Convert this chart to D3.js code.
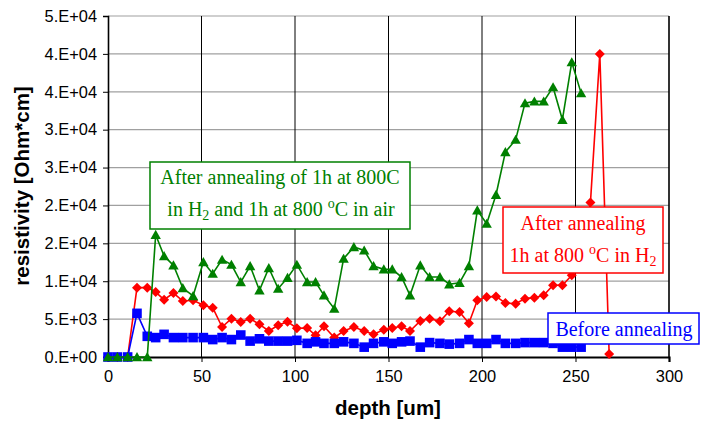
<!DOCTYPE html>
<html><head><meta charset="utf-8">
<script src="https://cdn.jsdelivr.net/npm/d3@7"></script>
<style>body{margin:0;background:#fff}</style>
</head><body>
<svg id="c" width="701" height="423"></svg>
<script>
// depth positions [um] shared by all series
const depth = [0,5,10.5,15.5,21,25.5,30,35,40,45.5,51,56,61,66,71,76,81,86,91,96,
  101,106.5,111,115.5,121,126,131.5,137,142,147.5,152,157,161.5,167,172,177.5,182.5,188,193,197.5,
  202.5,207.5,212.5,218,223,228,233,238,243,248,253,258,263,268];

const beforeAnnealing = [0,0,0,5760,2730,2560,2990,2560,2560,2560,2560,2300,2560,2300,2900,2100,2400,2100,2100,2100,
  2200,1800,2000,1800,1800,2000,1800,1300,1800,2000,1800,2000,2100,1300,1900,1800,1700,1800,2300,1800,
  1800,2300,1800,1800,1900,1900,1900,1800,1300,1300,1300];

const afterH2 = [0,0,0,9150,9150,8570,7570,8440,7390,7480,6820,6510,3960,5060,4620,5060,4310,3430,4180,4650,
  3800,3830,2860,4050,2560,3430,3960,3430,2990,3610,3830,4050,3430,4750,5060,4710,6030,5940,4450,7480,
  7910,8000,7120,7040,7700,7830,8140,9460,9460,10780,12500,20400,40000,400];

const afterH2Air = [0,0,0,0,0,16140,13320,12100,9100,8050,12530,11000,12850,12190,9890,12000,8800,11740,9020,10450,
  12190,9890,9890,8140,6380,12980,14510,14070,12000,11570,11570,10550,8140,12100,10550,10550,9600,9800,12000,19350,
  17600,21420,27040,28680,33500,33730,33730,35610,31310,38910,34820];

const xTicks = [0,50,100,150,200,250,300];
const yTicks = [0,5000,10000,15000,20000,25000,30000,35000,40000,45000];
const yTickLabels = ["0.E+00","5.E+03","1.E+04","2.E+04","2.E+04","3.E+04","3.E+04","4.E+04","4.E+04","5.E+04"];

const svg = d3.select("#c");
svg.append("rect").attr("width",701).attr("height",423).attr("fill","#fff");

const x = d3.scaleLinear().domain([0,300]).range([108,669]);
const y = d3.scaleLinear().domain([0,45000]).range([357,16]);

// horizontal grid
svg.append("g").selectAll("line").data(yTicks.slice(1)).join("line")
  .attr("x1",x(0)).attr("x2",x(300)).attr("y1",d=>y(d)).attr("y2",d=>y(d))
  .attr("stroke","#a0a0a0").attr("stroke-width",1.2);
// vertical grid
svg.append("g").selectAll("line").data(xTicks.slice(1)).join("line")
  .attr("x1",d=>x(d)).attr("x2",d=>x(d)).attr("y1",y(0)).attr("y2",y(45000))
  .attr("stroke","#000").attr("stroke-width",1);

// axes
const yAxis = d3.axisLeft(y).tickValues(yTicks).tickSize(5).tickPadding(6)
  .tickFormat((d,i)=>yTickLabels[i]);
const gy = svg.append("g").attr("transform",`translate(${x(0)},0)`).call(yAxis);
gy.select(".domain").attr("stroke","#000").attr("stroke-width",1.6);
gy.selectAll(".tick line").attr("stroke","#000");
gy.selectAll("text").attr("font-family","Liberation Sans, Arial, sans-serif").attr("font-size",16.4).attr("fill","#000");

const xAxis = d3.axisBottom(x).tickValues(xTicks).tickSize(5).tickPadding(8);
const gx = svg.append("g").attr("transform",`translate(0,${y(0)})`).call(xAxis);
gx.select(".domain").attr("stroke","#000").attr("stroke-width",2.2);
gx.selectAll(".tick line").attr("stroke","#000");
gx.selectAll("text").attr("font-family","Liberation Sans, Arial, sans-serif").attr("font-size",16.4).attr("fill","#000");

// axis titles
svg.append("text").attr("x",388).attr("y",415).attr("text-anchor","middle")
  .attr("font-family","Liberation Sans, Arial, sans-serif").attr("font-weight","bold").attr("font-size",20.5)
  .text("depth [um]");
svg.append("text").attr("transform","translate(29,186) rotate(-90)").attr("text-anchor","middle")
  .attr("font-family","Liberation Sans, Arial, sans-serif").attr("font-weight","bold").attr("font-size",20.5)
  .text("resistivity [Ohm*cm]");

const line = d3.line().x((d,i)=>x(depth[i])).y(d=>y(d));

function series(vals, color, shape){
  const g = svg.append("g");
  g.append("path").datum(vals).attr("d",line).attr("fill","none").attr("stroke",color).attr("stroke-width",1.6);
  g.selectAll("path.m").data(vals).join("path").attr("class","m")
    .attr("transform",(d,i)=>`translate(${x(depth[i])},${y(d)})`)
    .attr("d",shape).attr("fill",color);
}
const diamond = "M0,-5L5,0L0,5L-5,0Z";
const square = "M-4.8,-4.8H4.8V4.8H-4.8Z";
const triangle = "M0,-5L5.2,4.2L-5.2,4.2Z";

series(afterH2, "#ff0000", diamond);
series(beforeAnnealing, "#0000ff", square);
series(afterH2Air, "#008000", triangle);

// right border
svg.append("line").attr("x1",x(300)).attr("x2",x(300)).attr("y1",y(0)).attr("y2",y(45000))
  .attr("stroke","#000").attr("stroke-width",1.2);

// annotation boxes
function richText(g, cx, by, parts, color){
  const t = g.append("text").attr("x",cx).attr("y",by).attr("text-anchor","middle")
    .attr("font-family","Liberation Serif, Times New Roman, serif").attr("font-size",20).attr("fill",color);
  let back = 0;
  parts.forEach(p=>{
    if(typeof p === "string"){
      const s = t.append("tspan").text(p);
      if(back){ s.attr("dy",back); back = 0; }
    } else if(p.sup){
      t.append("tspan").attr("font-size",14).attr("dy",-8).text(p.sup); back = 8;
    } else if(p.sub){
      t.append("tspan").attr("font-size",14).attr("dy",4).text(p.sub); back = -4;
    }
  });
}
function box(x0,y0,w,h,color){
  const g = svg.append("g");
  g.append("rect").attr("x",x0).attr("y",y0).attr("width",w).attr("height",h)
    .attr("fill","#fff").attr("stroke",color).attr("stroke-width",1.5);
  return g;
}
const gG = box(150,162,260,67,"#008000");
richText(gG, 280, 184, ["After annealing of 1h at 800C"], "#008000");
richText(gG, 281, 216, ["in H", {sub:"2"}, " and 1h at 800 ", {sup:"o"}, "C in air"], "#008000");

const gR = box(503,207,160,66,"#ff0000");
richText(gR, 583, 230, ["After annealing"], "#ff0000");
richText(gR, 583, 262, ["1h at 800 ", {sup:"o"}, "C in H", {sub:"2"}], "#ff0000");

const gB = box(548,313,151,31,"#0000ff");
richText(gB, 624, 336, ["Before annealing"], "#0000ff");
</script>
</body></html>
